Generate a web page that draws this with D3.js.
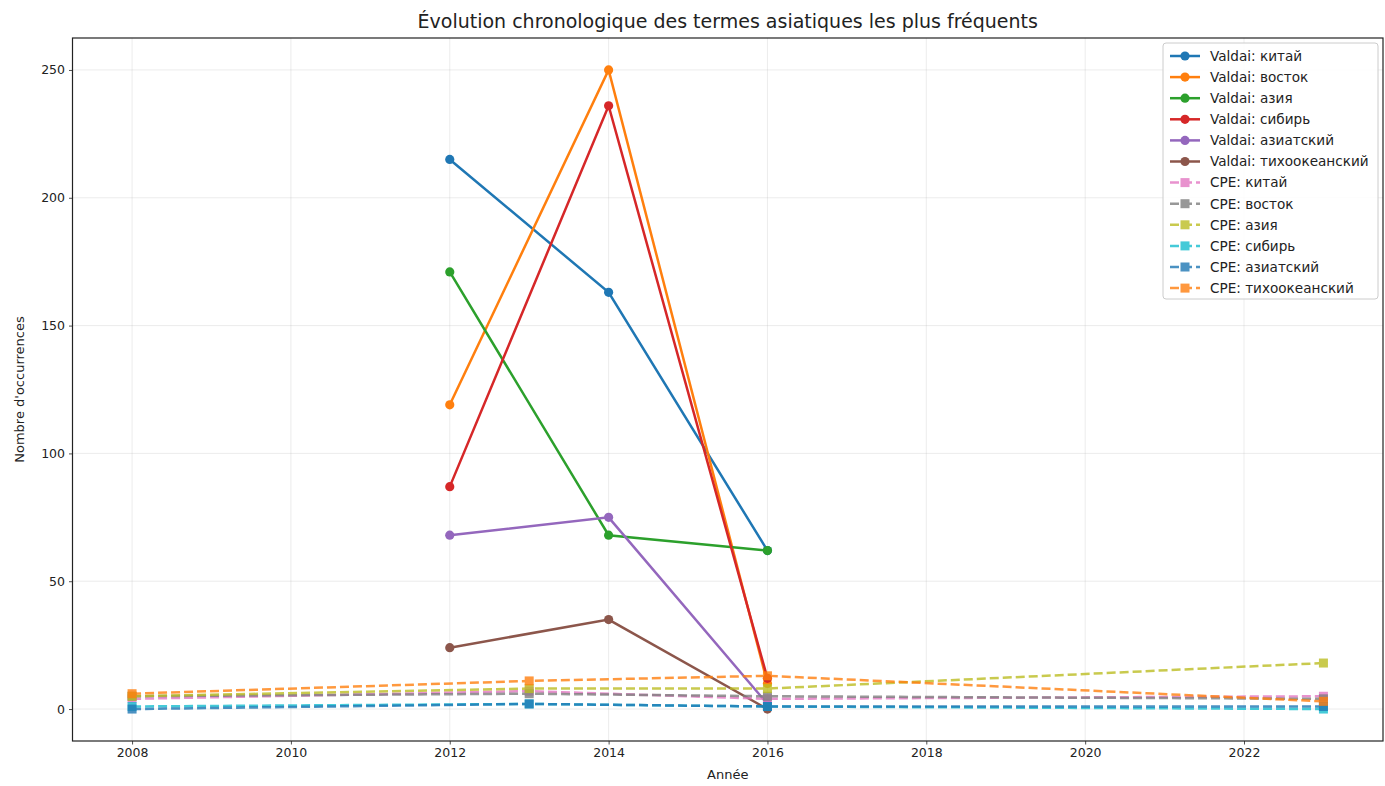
<!DOCTYPE html>
<html><head><meta charset="utf-8">
<script src="https://cdn.jsdelivr.net/npm/d3@7"></script>
<style>body{margin:0;background:#fff;} svg{display:block;font-family:"DejaVu Sans",sans-serif;}</style>
</head><body>
<script>
const terms = ["китай","восток","азия","сибирь","азиатский","тихоокеанский"];
const valdaiYears = [2012, 2014, 2016];
const valdaiValues = [
  [215, 163, 62],
  [119, 250, 10],
  [171, 68, 62],
  [87, 236, 12],
  [68, 75, 2],
  [24, 35, 0]
];
const cpeYears = [2008, 2013, 2016, 2023];
const cpeValues = [
  [4, 7, 4, 5],
  [5, 6, 5, 4],
  [5, 8, 8, 18],
  [1, 2, 1, 0],
  [0, 2, 1, 1],
  [6, 11, 13, 3]
];
const valdaiColors = ["#1f77b4","#ff7f0e","#2ca02c","#d62728","#9467bd","#8c564b"];
const cpeColors = ["#e377c2","#7f7f7f","#bcbd22","#17becf","#1f77b4","#ff7f0e"];
const xTicks = [2008, 2010, 2012, 2014, 2016, 2018, 2020, 2022];
const yTicks = [0, 50, 100, 150, 200, 250];

const W = 1385, H = 786;
const m = {left: 72.5, right: 2, top: 38, bottom: 45};
const svg = d3.select("body").append("svg").attr("width", W).attr("height", H);
const x = d3.scaleLinear().domain([2007.25, 2023.75]).range([m.left, W - m.right]);
const y = d3.scaleLinear().domain([-12.5, 262.5]).range([H - m.bottom, m.top]);

// grid
const g = svg.append("g");
g.selectAll(".gx").data(xTicks).enter().append("line")
  .attr("x1", d => x(d)).attr("x2", d => x(d)).attr("y1", m.top).attr("y2", H - m.bottom)
  .attr("stroke", "#b0b0b0").attr("stroke-opacity", 0.3).attr("stroke-width", 0.8);
g.selectAll(".gy").data(yTicks).enter().append("line")
  .attr("y1", d => y(d)).attr("y2", d => y(d)).attr("x1", m.left).attr("x2", W - m.right)
  .attr("stroke", "#b0b0b0").attr("stroke-opacity", 0.3).attr("stroke-width", 0.8);

// axes
const xAxis = svg.append("g").attr("transform", `translate(0,${H - m.bottom})`)
  .call(d3.axisBottom(x).tickValues(xTicks).tickFormat(d3.format("d")).tickSize(3.5).tickPadding(4));
const yAxis = svg.append("g").attr("transform", `translate(${m.left},0)`)
  .call(d3.axisLeft(y).tickValues(yTicks).tickSize(3.5).tickPadding(4));
[xAxis, yAxis].forEach(a => {
  a.selectAll("text").attr("font-size", 12.5).attr("fill", "#222").attr("font-family", "DejaVu Sans");
  a.select(".domain").remove();
  a.selectAll(".tick line").attr("stroke", "#222").attr("stroke-width", 0.8);
});
svg.append("rect").attr("x", m.left).attr("y", m.top).attr("width", W - m.right - m.left)
  .attr("height", H - m.bottom - m.top).attr("fill", "none").attr("stroke", "#222").attr("stroke-width", 1.2);

const line = d3.line().x(d => x(d[0])).y(d => y(d[1]));

// Valdai
valdaiValues.forEach((vals, i) => {
  const pts = valdaiYears.map((yr, j) => [yr, vals[j]]);
  svg.append("path").datum(pts).attr("d", line).attr("fill", "none")
    .attr("stroke", valdaiColors[i]).attr("stroke-width", 2.5);
  svg.selectAll(null).data(pts).enter().append("circle")
    .attr("cx", d => x(d[0])).attr("cy", d => y(d[1])).attr("r", 4.6)
    .attr("fill", valdaiColors[i]);
});
// CPE
cpeValues.forEach((vals, i) => {
  const pts = cpeYears.map((yr, j) => [yr, vals[j]]);
  const gg = svg.append("g").attr("opacity", 0.8);
  gg.append("path").datum(pts).attr("d", line).attr("fill", "none")
    .attr("stroke", cpeColors[i]).attr("stroke-width", 2.5).attr("stroke-dasharray", "9,4");
  gg.selectAll(null).data(pts).enter().append("rect")
    .attr("x", d => x(d[0]) - 4.5).attr("y", d => y(d[1]) - 4.5).attr("width", 9).attr("height", 9)
    .attr("fill", cpeColors[i]);
});

// title & labels
svg.append("text").attr("x", (m.left + W - m.right) / 2).attr("y", 28).attr("text-anchor", "middle")
  .attr("font-size", 19).attr("fill", "#222").text("Évolution chronologique des termes asiatiques les plus fréquents");
svg.append("text").attr("x", (m.left + W - m.right) / 2).attr("y", 779).attr("text-anchor", "middle")
  .attr("font-size", 13).attr("fill", "#222").text("Année");
svg.append("text").attr("transform", `translate(24,${(m.top + H - m.bottom) / 2}) rotate(-90)`)
  .attr("text-anchor", "middle").attr("font-size", 13).attr("fill", "#222").text("Nombre d'occurrences");

// legend
const labels = terms.map(t => "Valdai: " + t).concat(terms.map(t => "CPE: " + t));
const colors = valdaiColors.concat(cpeColors);
const lg = svg.append("g");
lg.append("rect").attr("x", 1163).attr("y", 43).attr("width", 215).attr("height", 256).attr("rx", 3)
  .attr("fill", "#fff").attr("fill-opacity", 0.85).attr("stroke", "#ccc").attr("stroke-width", 1);
labels.forEach((lab, i) => {
  const yy = 56 + i * 21.1;
  const isC = i >= 6;
  const it = lg.append("g").attr("opacity", isC ? 0.8 : 1);
  it.append("line").attr("x1", 1170).attr("x2", 1200).attr("y1", yy).attr("y2", yy)
    .attr("stroke", colors[i]).attr("stroke-width", 2.5).attr("stroke-dasharray", isC ? "9,4" : null);
  if (isC) it.append("rect").attr("x", 1185 - 4.5).attr("y", yy - 4.5).attr("width", 9).attr("height", 9).attr("fill", colors[i]);
  else it.append("circle").attr("cx", 1185).attr("cy", yy).attr("r", 4.6).attr("fill", colors[i]);
  lg.append("text").attr("x", 1210).attr("y", yy + 4.8).attr("font-size", 13.6).attr("fill", "#222").text(lab);
});
</script>
</body></html>
